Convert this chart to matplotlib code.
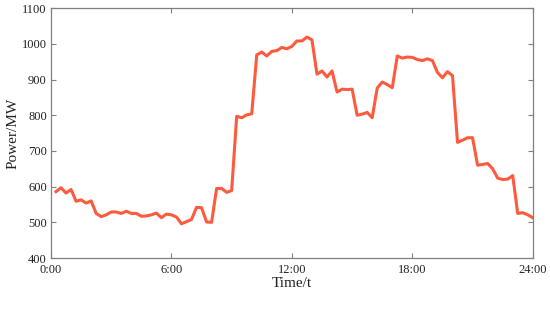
import matplotlib
matplotlib.use("Agg")
import matplotlib.pyplot as plt
import numpy as np

plt.rcParams['font.family'] = ['Liberation Serif', 'DejaVu Serif']

hours = np.arange(1, 97) * 0.25
power = [586, 597, 582, 592, 559, 563, 554, 560, 525, 516, 521, 529, 529, 525, 531, 525,
         525, 517, 518, 521, 526, 513, 523, 521, 515, 496, 502, 508, 542, 541, 501, 500,
         595, 595, 584, 589, 797, 793, 801, 804, 969, 977, 966, 979, 981, 990, 986, 993,
         1008, 1008, 1019, 1011, 915, 924, 907, 924, 865, 873, 872, 873, 800, 803, 808, 793,
         876, 893, 886, 877, 966, 960, 963, 962, 956, 953, 958, 953, 920, 905, 922, 911,
         724, 730, 737, 737, 660, 662, 665, 650, 624, 620, 621, 631, 525, 527, 521, 513]
xticks = [0, 6, 12, 18, 24]
xticklabels = ["0:00", "6:00", "12:00", "18:00", "24:00"]
yticks = [400, 500, 600, 700, 800, 900, 1000, 1100]

fig = plt.figure(figsize=(5.5, 3.25), dpi=100)
ax = fig.add_axes([0.0927, 0.206, 0.876, 0.769])
ax.plot(hours, power, color='#fe5a3d', lw=2.2, solid_joinstyle='round')
ax.set_xlim(0, 24)
ax.set_ylim(400, 1100)
ax.set_xticks(xticks)
ax.set_xticklabels(xticklabels)
ax.set_yticks(yticks)
for s in ax.spines.values():
    s.set_color('#808080')
    s.set_linewidth(0.9)
ax.tick_params(direction='in', colors='#808080', labelcolor='#222222', labelsize=9,
               top=True, right=True, length=3.5, width=0.8)
ax.tick_params(axis='x', pad=4)
ax.tick_params(axis='y', pad=3)
ax.set_xlabel("Time/t", fontsize=11, color='#222222', labelpad=1)
ax.set_ylabel("Power/MW", fontsize=11, color='#222222', labelpad=2)
fig.savefig("out.png", dpi=100)
